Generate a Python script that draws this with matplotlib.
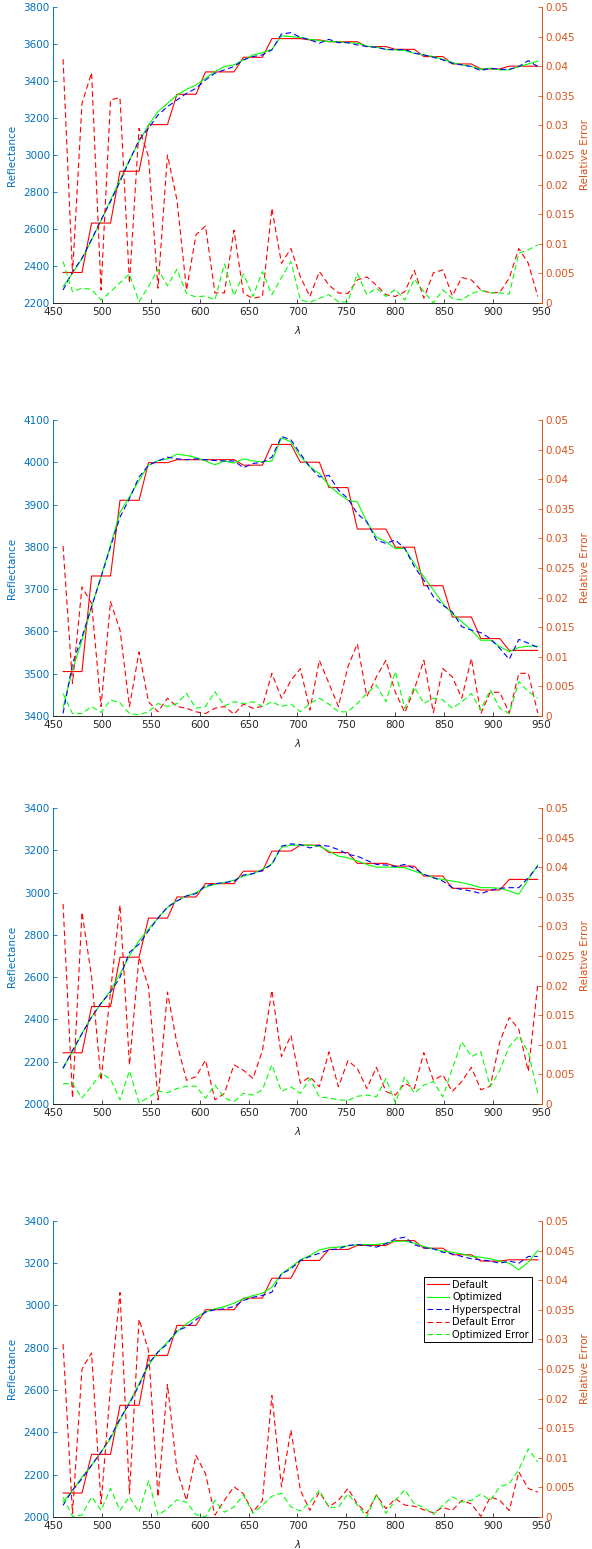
import matplotlib
matplotlib.use('Agg')
from matplotlib import pyplot as plt
from matplotlib.ticker import FuncFormatter

# wavelengths of the samples (nm)
wavelength = [460.0, 469.7, 479.4, 489.2, 498.9, 508.6, 518.3, 528.0, 537.8, 547.5,
              557.2, 566.9, 576.6, 586.4, 596.1, 605.8, 615.5, 625.2, 635.0, 644.7,
              654.4, 664.1, 673.8, 683.6, 693.3, 703.0, 712.7, 722.4, 732.2, 741.9,
              751.6, 761.3, 771.0, 780.8, 790.5, 800.2, 809.9, 819.6, 829.4, 839.1,
              848.8, 858.5, 868.2, 878.0, 887.7, 897.4, 907.1, 916.8, 926.6, 936.3,
              946.0]

# panel 1
default_1 = [2365, 2365, 2365, 2632, 2632, 2632, 2912, 2912, 2912, 3164, 3164, 3164,
             3328, 3328, 3328, 3449, 3449, 3449, 3449, 3528, 3528, 3528, 3629, 3629,
             3629, 3629, 3622, 3622, 3612, 3612, 3612, 3612, 3586, 3586, 3586, 3571,
             3571, 3571, 3532, 3532, 3532, 3492, 3492, 3492, 3465, 3465, 3465, 3480,
             3480, 3480, 3480]
opt_1 = [2288, 2360, 2441, 2540, 2645, 2757, 2865, 2973, 3072, 3162,
         3234, 3279, 3324, 3355, 3378, 3415, 3451, 3478, 3487, 3514,
         3541, 3553, 3571, 3643, 3640, 3636, 3625, 3618, 3613, 3611,
         3607, 3604, 3589, 3582, 3571, 3568, 3564, 3550, 3541, 3532,
         3517, 3500, 3487, 3478, 3463, 3469, 3460, 3460, 3478, 3492, 3508]
hyper_1 = [2270, 2369, 2441, 2544, 2649, 2748, 2856, 2969, 3081, 3144,
           3216, 3261, 3297, 3333, 3360, 3405, 3442, 3460, 3478, 3514,
           3532, 3541, 3568, 3654, 3661, 3636, 3622, 3604, 3625, 3607,
           3607, 3595, 3586, 3582, 3571, 3568, 3571, 3550, 3541, 3528,
           3514, 3496, 3487, 3478, 3456, 3469, 3463, 3463, 3478, 3510, 3478]
deferr_1 = [0.0412, 0.0050, 0.0337, 0.0389, 0.0022, 0.0343, 0.0347, 0.0033, 0.0295, 0.0247,
            0.0025, 0.0250, 0.0174, 0.0022, 0.0115, 0.0130, 0.0017, 0.0017, 0.0123, 0.0016,
            0.0008, 0.0011, 0.0160, 0.0067, 0.0092, 0.0044, 0.0011, 0.0053, 0.0030, 0.0017,
            0.0016, 0.0039, 0.0044, 0.0030, 0.0014, 0.0011, 0.0019, 0.0055, 0.0008, 0.0051,
            0.0056, 0.0012, 0.0043, 0.0039, 0.0022, 0.0017, 0.0018, 0.0042, 0.0092, 0.0067, 0.0011]
opterr_1 = [0.0070, 0.0019, 0.0025, 0.0023, 0.0005, 0.0019, 0.0034, 0.0049, 0.0002, 0.0028,
            0.0057, 0.0029, 0.0057, 0.0016, 0.0010, 0.0012, 0.0005, 0.0066, 0.0012, 0.0049,
            0.0011, 0.0053, 0.0014, 0.0043, 0.0070, 0.0005, 0.0001, 0.0008, 0.0014, 0.0002,
            0.0002, 0.0050, 0.0014, 0.0025, 0.0011, 0.0023, 0.0005, 0.0040, 0.0019, 0.0000,
            0.0022, 0.0008, 0.0005, 0.0016, 0.0021, 0.0017, 0.0017, 0.0015, 0.0084, 0.0090, 0.0098]

# panel 2
default_2 = [3505, 3505, 3505, 3731, 3731, 3731, 3910, 3910, 3910, 3999, 3999, 3999,
             4006, 4006, 4006, 4006, 4006, 4006, 4006, 3993, 3993, 3993, 4042, 4042,
             4042, 4000, 4000, 4000, 3940, 3940, 3940, 3842, 3842, 3842, 3842, 3799,
             3799, 3799, 3708, 3708, 3708, 3634, 3634, 3634, 3583, 3583, 3583, 3555,
             3555, 3555, 3555]
opt_2 = [3420, 3509, 3579, 3658, 3729, 3804, 3882, 3918, 3957, 3993,
         4004, 4008, 4019, 4016, 4011, 4003, 3994, 4003, 3998, 4008,
         4003, 4001, 4003, 4058, 4048, 4014, 3989, 3973, 3945, 3926,
         3910, 3906, 3859, 3823, 3812, 3796, 3796, 3760, 3729, 3698,
         3666, 3642, 3623, 3603, 3579, 3579, 3564, 3552, 3562, 3565, 3565]
hyper_2 = [3406, 3524, 3587, 3658, 3729, 3800, 3870, 3914, 3965, 3993,
           4003, 4012, 4008, 4006, 4008, 4006, 4004, 4003, 4003, 3987,
           3997, 4000, 4012, 4061, 4053, 4020, 3989, 3965, 3969, 3934,
           3914, 3878, 3859, 3816, 3808, 3816, 3796, 3753, 3721, 3682,
           3662, 3646, 3611, 3603, 3597, 3583, 3560, 3534, 3581, 3572, 3562]
deferr_2 = [0.0287, 0.0055, 0.0218, 0.0190, 0.0016, 0.0193, 0.0145, 0.0016, 0.0108, 0.0024,
            0.0007, 0.0030, 0.0016, 0.0013, 0.0007, 0.0004, 0.0013, 0.0016, 0.0003, 0.0020,
            0.0013, 0.0016, 0.0072, 0.0030, 0.0060, 0.0080, 0.0010, 0.0094, 0.0055, 0.0016,
            0.0083, 0.0122, 0.0033, 0.0066, 0.0094, 0.0040, 0.0006, 0.0045, 0.0094, 0.0006,
            0.0080, 0.0066, 0.0030, 0.0097, 0.0004, 0.0040, 0.0040, 0.0005, 0.0072, 0.0072, 0.0005]
opterr_2 = [0.0038, 0.0004, 0.0004, 0.0016, 0.0006, 0.0027, 0.0022, 0.0004, 0.0002, 0.0007,
            0.0021, 0.0016, 0.0021, 0.0038, 0.0013, 0.0016, 0.0041, 0.0017, 0.0024, 0.0021,
            0.0024, 0.0016, 0.0024, 0.0016, 0.0020, 0.0007, 0.0021, 0.0030, 0.0020, 0.0007,
            0.0007, 0.0021, 0.0038, 0.0052, 0.0024, 0.0075, 0.0013, 0.0049, 0.0021, 0.0030,
            0.0027, 0.0013, 0.0024, 0.0038, 0.0010, 0.0044, 0.0013, 0.0004, 0.0058, 0.0041, 0.0030]

# panel 3
default_3 = [2242, 2242, 2242, 2461, 2461, 2461, 2694, 2694, 2694, 2879, 2879, 2879,
             2979, 2979, 2979, 3042, 3042, 3042, 3042, 3101, 3101, 3101, 3196, 3196,
             3196, 3224, 3224, 3224, 3189, 3189, 3189, 3138, 3138, 3138, 3138, 3125,
             3125, 3125, 3078, 3078, 3078, 3020, 3020, 3020, 3012, 3012, 3012, 3062,
             3062, 3062, 3062]
opt_3 = [2173, 2246, 2333, 2411, 2474, 2537, 2615, 2701, 2772, 2827,
         2879, 2929, 2960, 2984, 2999, 3026, 3039, 3047, 3058, 3078,
         3089, 3109, 3136, 3214, 3224, 3224, 3224, 3219, 3196, 3172,
         3164, 3149, 3133, 3120, 3120, 3120, 3117, 3101, 3086, 3070,
         3062, 3054, 3047, 3036, 3023, 3023, 3020, 3007, 2992, 3062, 3130]
hyper_3 = [2168, 2254, 2333, 2411, 2477, 2529, 2599, 2717, 2756, 2819,
           2879, 2932, 2960, 2984, 2995, 3031, 3042, 3047, 3054, 3083,
           3089, 3105, 3133, 3219, 3230, 3227, 3211, 3224, 3219, 3203,
           3180, 3172, 3152, 3133, 3130, 3123, 3133, 3114, 3086, 3070,
           3054, 3023, 3015, 3007, 2995, 3010, 3020, 3023, 3023, 3070, 3125]
deferr_3 = [0.0338, 0.0010, 0.0324, 0.0215, 0.0040, 0.0190, 0.0336, 0.0066, 0.0248, 0.0198,
            0.0007, 0.0189, 0.0102, 0.0040, 0.0046, 0.0074, 0.0007, 0.0018, 0.0066, 0.0057,
            0.0043, 0.0090, 0.0192, 0.0080, 0.0116, 0.0035, 0.0046, 0.0029, 0.0088, 0.0029,
            0.0073, 0.0060, 0.0026, 0.0062, 0.0021, 0.0015, 0.0035, 0.0026, 0.0087, 0.0040,
            0.0049, 0.0021, 0.0038, 0.0062, 0.0024, 0.0030, 0.0105, 0.0146, 0.0126, 0.0055, 0.0202]
opterr_3 = [0.0034, 0.0035, 0.0010, 0.0030, 0.0052, 0.0042, 0.0007, 0.0056, 0.0002, 0.0011,
            0.0022, 0.0019, 0.0026, 0.0030, 0.0030, 0.0010, 0.0032, 0.0010, 0.0004, 0.0018,
            0.0015, 0.0024, 0.0066, 0.0021, 0.0029, 0.0018, 0.0043, 0.0012, 0.0010, 0.0007,
            0.0006, 0.0013, 0.0015, 0.0012, 0.0043, 0.0002, 0.0046, 0.0018, 0.0032, 0.0038,
            0.0012, 0.0060, 0.0105, 0.0080, 0.0088, 0.0029, 0.0057, 0.0097, 0.0115, 0.0088, 0.0018]

# panel 4
default_4 = [2113, 2113, 2113, 2296, 2296, 2296, 2528, 2528, 2528, 2764, 2764, 2764,
             2906, 2906, 2906, 2980, 2980, 2980, 2980, 3035, 3035, 3035, 3129, 3129,
             3129, 3213, 3213, 3213, 3265, 3265, 3265, 3284, 3284, 3284, 3284, 3307,
             3307, 3307, 3271, 3271, 3271, 3240, 3240, 3240, 3210, 3210, 3210, 3216,
             3216, 3216, 3216]
opt_4 = [2071, 2126, 2189, 2244, 2307, 2370, 2457, 2543, 2630, 2717,
         2780, 2827, 2874, 2913, 2945, 2969, 2984, 2995, 3011, 3032,
         3047, 3058, 3087, 3150, 3181, 3216, 3236, 3263, 3273, 3276,
         3282, 3288, 3288, 3288, 3295, 3304, 3304, 3295, 3279, 3268,
         3257, 3252, 3244, 3232, 3228, 3221, 3210, 3200, 3169, 3205, 3260]
hyper_4 = [2055, 2126, 2181, 2244, 2307, 2378, 2465, 2536, 2622, 2725,
           2780, 2819, 2882, 2898, 2932, 2969, 2980, 2984, 2995, 3024,
           3039, 3047, 3063, 3150, 3173, 3213, 3232, 3247, 3263, 3268,
           3284, 3288, 3284, 3276, 3292, 3315, 3323, 3288, 3273, 3268,
           3252, 3244, 3232, 3221, 3216, 3210, 3200, 3210, 3200, 3232, 3232]
deferr_4 = [0.0292, 0.0006, 0.0250, 0.0277, 0.0022, 0.0219, 0.0379, 0.0039, 0.0334, 0.0281,
            0.0034, 0.0224, 0.0079, 0.0028, 0.0104, 0.0073, 0.0003, 0.0028, 0.0051, 0.0039,
            0.0008, 0.0028, 0.0205, 0.0051, 0.0147, 0.0045, 0.0011, 0.0042, 0.0017, 0.0028,
            0.0048, 0.0022, 0.0006, 0.0037, 0.0014, 0.0031, 0.0020, 0.0018, 0.0012, 0.0007,
            0.0016, 0.0011, 0.0028, 0.0022, 0.0001, 0.0034, 0.0028, 0.0011, 0.0076, 0.0048, 0.0042]
opterr_4 = [0.0033, 0.0001, 0.0003, 0.0034, 0.0011, 0.0048, 0.0011, 0.0034, 0.0008, 0.0061,
            0.0003, 0.0014, 0.0029, 0.0025, 0.0004, 0.0000, 0.0028, 0.0008, 0.0017, 0.0037,
            0.0006, 0.0020, 0.0035, 0.0040, 0.0017, 0.0010, 0.0025, 0.0045, 0.0016, 0.0016,
            0.0039, 0.0020, 0.0000, 0.0038, 0.0006, 0.0028, 0.0046, 0.0022, 0.0016, 0.0004,
            0.0020, 0.0034, 0.0025, 0.0028, 0.0039, 0.0028, 0.0051, 0.0056, 0.0080, 0.0115, 0.0093]

panels = [
    (default_1, opt_1, hyper_1, deferr_1, opterr_1, (2200, 3800), 200),
    (default_2, opt_2, hyper_2, deferr_2, opterr_2, (3400, 4100), 100),
    (default_3, opt_3, hyper_3, deferr_3, opterr_3, (2000, 3400), 200),
    (default_4, opt_4, hyper_4, deferr_4, opterr_4, (2000, 3400), 200),
]

left_col = '#0072BD'
right_col = '#D95319'
dark = '#262626'
fs = 7.5
lw = 0.8
dash = (0, (5, 3))

fig = plt.figure(figsize=(5.92, 15.49), dpi=100)
bottoms = [0.8044, 0.5378, 0.2873, 0.0207]

for i, (dflt, opt, hyp, derr, oerr, ylim, ystep) in enumerate(panels):
    ax = fig.add_axes([0.0900, bottoms[i], 0.8250, 0.1911])
    l1, = ax.plot(wavelength, dflt, '-', color='#FF0000', lw=lw, label='Default')
    l2, = ax.plot(wavelength, opt, '-', color='#00FF00', lw=lw, label='Optimized')
    l3, = ax.plot(wavelength, hyp, color='#0000FF', lw=lw, linestyle=dash, label='Hyperspectral')
    ax.set_xlim(450, 950)
    ax.set_ylim(*ylim)
    ax.set_xticks(range(450, 951, 50))
    ax.set_yticks(range(ylim[0], ylim[1] + 1, ystep))

    ax2 = ax.twinx()
    l4, = ax2.plot(wavelength, derr, color='#FF0000', lw=lw, linestyle=dash, label='Default Error')
    l5, = ax2.plot(wavelength, oerr, color='#00FF00', lw=lw, linestyle=dash, label='Optimized Error')
    ax2.set_ylim(0, 0.05)
    ax2.set_yticks([k * 0.005 for k in range(11)])
    ax2.yaxis.set_major_formatter(FuncFormatter(lambda v, p: '%g' % round(v, 4)))

    # spines / ticks, MATLAB yyaxis look
    for a in (ax, ax2):
        a.spines['top'].set_visible(False)
        a.set_xlim(450, 950)
    ax.spines['right'].set_visible(False)
    ax.spines['left'].set_color(left_col)
    ax.spines['bottom'].set_color(dark)
    ax2.spines['left'].set_visible(False)
    ax2.spines['bottom'].set_visible(False)
    ax2.spines['right'].set_color(right_col)
    for s in ('left', 'bottom'):
        ax.spines[s].set_linewidth(0.7)
    ax2.spines['right'].set_linewidth(0.7)

    ax.tick_params(axis='y', direction='in', length=3, width=0.6, colors=left_col,
                   labelsize=fs, pad=2.5)
    ax.tick_params(axis='x', direction='in', length=3, width=0.6, colors=dark,
                   labelsize=fs, pad=3)
    ax2.tick_params(axis='y', direction='in', length=3, width=0.6, colors=right_col,
                    labelsize=fs, pad=2.5)

    ax.set_ylabel('Reflectance', color=left_col, fontsize=fs)
    ax.yaxis.set_label_coords(-0.074, 0.5)
    ax2.set_ylabel('Relative Error', color=right_col, fontsize=fs)
    ax2.yaxis.set_label_coords(1.079, 0.5)
    ax.set_xlabel(r'$\lambda$', color=dark, fontsize=fs, va='center')
    ax.xaxis.set_label_coords(0.5, -0.09)

    if i == 3:
        leg = ax2.legend(handles=[l1, l2, l3, l4, l5], loc='upper right',
                         bbox_to_anchor=(0.98, 0.811), fontsize=7, fancybox=False,
                         framealpha=1, edgecolor='black', borderpad=0.3,
                         labelspacing=0.25, handletextpad=0.3, handlelength=2.3,
                         borderaxespad=0)
        leg.get_frame().set_linewidth(0.7)

fig.savefig('out.png', dpi=100)
